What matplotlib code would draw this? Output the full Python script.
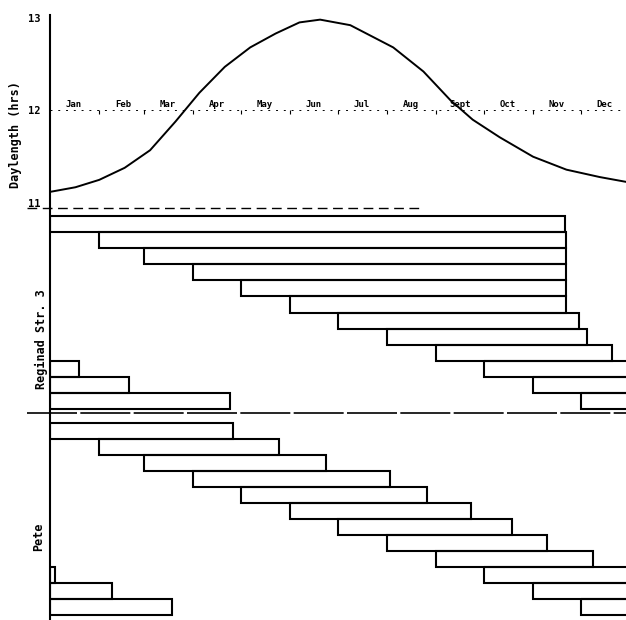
import numpy as np
import matplotlib
matplotlib.use('Agg')
import matplotlib.pyplot as plt

# 日长曲线 (day of year -> hours)
days = [0, 16, 31, 47, 63, 79, 94, 110, 126, 142, 157, 170, 189, 216, 235, 252, 266, 283, 304, 325, 346, 362]
hours = [11.12, 11.17, 11.25, 11.38, 11.57, 11.88, 12.19, 12.47, 12.68, 12.83, 12.95, 12.98,
         12.92, 12.68, 12.42, 12.11, 11.90, 11.71, 11.50, 11.36, 11.28, 11.23]

months = ['Jan', 'Feb', 'Mar', 'Apr', 'May', 'Jun', 'Jul', 'Aug', 'Sept', 'Oct', 'Nov', 'Dec']
month_start = [0, 31, 59, 90, 120, 151, 181, 212, 243, 273, 304, 334]

# 播种日期与成熟日期 (day of year, >365 = next year)
plant_day = [0, 31, 59, 90, 120, 151, 181, 212, 243, 273, 304, 334]
reginad_end = [324, 325, 325, 325, 325, 325, 333, 338, 354, 383, 415, 478]
pete_end = [115, 144, 174, 214, 237, 265, 291, 313, 342, 368, 404, 442]

mono = 'DejaVu Sans Mono'
XMAX = 362.5
LW = 1.5

fig = plt.figure(figsize=(6.26, 6.20), dpi=100)
x0, w = 50 / 626, 576 / 626
ax_top = fig.add_axes([x0, 1 - 208 / 620, w, 193 / 620])
ax_mid = fig.add_axes([x0, 1 - 413 / 620, w, 205 / 620])
ax_bot = fig.add_axes([x0, 1 - 619 / 620, w, 206 / 620])

for ax in (ax_top, ax_mid, ax_bot):
    ax.set_xlim(0, XMAX)
    ax.patch.set_visible(False)
    for s in ('top', 'right', 'bottom'):
        ax.spines[s].set_visible(False)
    ax.spines['left'].set_linewidth(1.5)
    ax.set_xticks([])

# 上图：日长
ax_top.plot(days, hours, color='black', lw=1.4)
ax_top.set_ylim(10.946, 13.03)
ax_top.set_yticks([11, 12, 13])
ax_top.set_yticklabels(['11', '12', '13'], family=mono, fontweight='bold', fontsize=7.5)
ax_top.tick_params(axis='y', length=0, pad=7)
ax_top.axhline(12, color='black', lw=0.7, dashes=(2, 6))
ax_top.vlines(month_start[1:], 11.96, 12.0, color='black', lw=0.8)
for m, d in zip(months, month_start):
    ax_top.text(d + 15, 12.02, m, ha='center', va='bottom', family=mono,
                fontweight='bold', fontsize=6.5)
ax_top.plot([-0.04, 0.64], [0, 0], transform=ax_top.transAxes, color='black',
            lw=1.0, dashes=(7, 4), clip_on=False)

# 中图、下图：生育期条
def draw_bars(ax, ends):
    for i, (s, e) in enumerate(zip(plant_day, ends)):
        ax.barh(i, e - s, left=s, height=1, facecolor='none', edgecolor='black', lw=LW)
        if e > 365:
            ax.barh(i, e - 365, left=0, height=1, facecolor='none', edgecolor='black', lw=LW)
    ax.set_yticks([])

draw_bars(ax_mid, reginad_end)
ax_mid.set_ylim(11.75, -1.0)
draw_bars(ax_bot, pete_end)
ax_bot.set_ylim(11.75, -1.1)
ax_bot.plot([-0.04, 1], [1, 1], transform=ax_bot.transAxes, color='black',
            lw=1.2, dashes=(30, 2), clip_on=False)

fig.text(16 / 626, 1 - 135 / 620, 'Daylength (hrs)', rotation=90, ha='center', va='center',
         family=mono, fontweight='bold', fontsize=8.5)
fig.text(41 / 626, 1 - 339 / 620, 'Reginad Str. 3', rotation=90, ha='center', va='center',
         family=mono, fontweight='bold', fontsize=8.5)
fig.text(39 / 626, 1 - 537 / 620, 'Pete', rotation=90, ha='center', va='center',
         family=mono, fontweight='bold', fontsize=8.5)

fig.savefig('out.png', dpi=100)
